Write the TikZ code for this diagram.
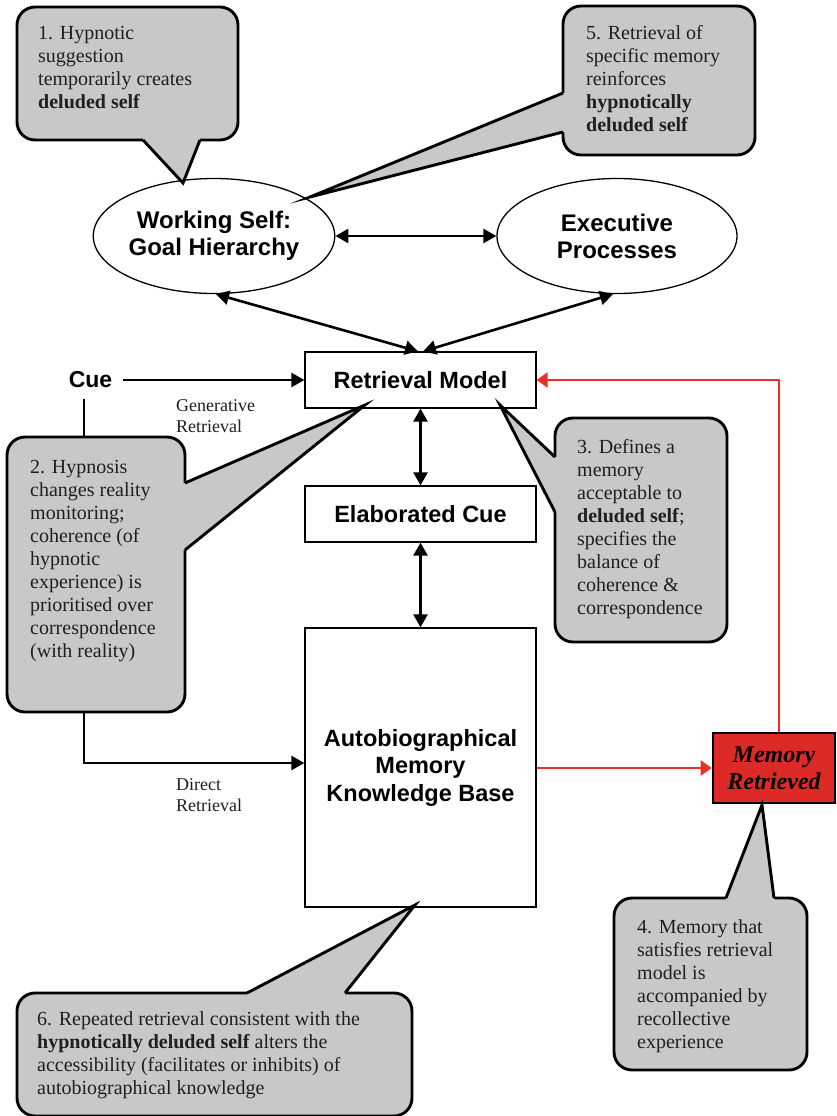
\documentclass[tikz,border=0pt]{standalone}
\usepackage{fontspec}
\setmainfont{Liberation Serif}
\setsansfont{Liberation Sans}
\usetikzlibrary{shapes.geometric,arrows.meta,calc}
\definecolor{cgray}{RGB}{200,200,200}
\definecolor{mred}{RGB}{221,42,38}
\definecolor{lred}{RGB}{230,48,40}
\begin{document}
\begin{tikzpicture}[x=1pt,y=-1pt,
  ell/.style={ellipse, draw, line width=1.3pt, fill=white, minimum width=240pt, minimum height=115pt, inner sep=0pt, align=center, font=\sffamily\bfseries\fontsize{24}{27}\selectfont},
  mbox/.style={draw, line width=1.3pt, fill=white, minimum width=231pt, inner sep=0pt, align=center, font=\sffamily\bfseries\fontsize{23.5}{27.5}\selectfont},
  callout/.style={draw, line width=2.9pt, fill=cgray, rounded corners=18pt, inner sep=0pt},
  tailline/.style={line width=2.9pt, line join=miter, miter limit=20},
  ctext/.style={anchor=base west, inner sep=0pt, text=black!88, font=\fontsize{20}{23}\selectfont},
  lab/.style={anchor=base west, inner sep=0pt, text=black!88, font=\fontsize{18}{21.5}\selectfont},
  arr/.style={line width=2.6pt, -{Triangle[length=13pt,width=14pt]}},
  dbl/.style={line width=2.6pt, {Triangle[length=13pt,width=14pt]}-{Triangle[length=13pt,width=14pt]}},
  rarr/.style={line width=2.2pt, draw=lred, -{Triangle[length=11pt,width=15pt,fill=lred]}},
]
\useasboundingbox (0,0) rectangle (836,1116);
\fill[white] (0,0) rectangle (836,1116);

% main nodes
\node[ell] (ws) at (214,236) {Working Self:\\Goal Hierarchy};
\node[ell] (ep) at (617,236) {Executive\\Processes};
\node[mbox, minimum height=56pt] (rm) at (420.5,380) {Retrieval Model};
\node[mbox, minimum height=56pt] (ec) at (420.5,514) {Elaborated Cue};
\node[mbox, minimum height=279pt] (ab) at (420.5,767.5) {Autobiographical\\Memory\\Knowledge Base};
\node[draw, line width=2.6pt, fill=mred, minimum width=122pt, minimum height=70pt, inner sep=0pt, align=center, font=\bfseries\itshape\fontsize{24}{27}\selectfont] (mr) at (774,768) {Memory\\Retrieved};
\node[font=\sffamily\bfseries\fontsize{23}{27}\selectfont, inner sep=11pt] (cue) at (90.5,380) {Cue};

\node[lab] (gr) at (176,411) {\parbox[t]{150pt}{Generative\\Retrieval}};
\node[lab] (dr) at (176,790) {\parbox[t]{150pt}{Direct\\Retrieval}};

% connectors
\coordinate (cuedown) at (84,763);
\draw[arr] (cue.east) -- (rm.west);
\draw[arr] (cue.south -| cuedown) -- (cuedown) -- (cuedown -| ab.west);
\draw[dbl] (ws) -- (ep);
\draw[dbl] (ws.272) -- ([xshift=-2.5pt]rm.north);
\draw[dbl] (ep.266) -- ([xshift=2.5pt]rm.north);
\draw[dbl] (rm) -- (ec);
\draw[dbl] (ec) -- (ab);
\draw[rarr] ([xshift=5pt]mr.north) |- (rm.east);
\draw[rarr] (ab.east |- mr.west) -- (mr.west);

% callout 1
\node[callout, minimum width=221pt, minimum height=133pt] (c1) at (127.5,73.5) {};
\fill[cgray] (143,134) -- (143,140) -- (183,183) -- (200,140) -- (200,134) -- cycle;
\draw[tailline] (143,140) -- (183,183) -- (200,140);
\node[ctext] (t1) at (38,40) {\parbox[t]{450pt}{1. Hypnotic\\suggestion\\temporarily creates\\\textbf{deluded self}}};

% callout 5
\node[callout, minimum width=192pt, minimum height=149pt] (c5) at (659,80.5) {};
\fill[cgray] (569,93) -- (563,93) -- (310,197) -- (563,132) -- (569,132) -- cycle;
\draw[tailline] (563,93) -- (310,197) -- (563,132);
\node[ctext] (t5) at (586,40) {\parbox[t]{450pt}{5. Retrieval of\\specific memory\\reinforces\\\textbf{hypnotically}\\\textbf{deluded self}}};

% callout 2
\node[callout, minimum width=178pt, minimum height=275pt] (c2) at (96,574.5) {};
\fill[cgray] (179,483) -- (185,483) -- (365,405) -- (185,550) -- (179,550) -- cycle;
\draw[tailline] (185,483) -- (365,405) -- (185,550);
\node[ctext] (t2) at (30,473) {\parbox[t]{450pt}{2. Hypnosis\\changes reality\\monitoring;\\coherence (of\\hypnotic\\experience) is\\prioritised over\\correspondence\\(with reality)}};

% callout 3
\node[callout, minimum width=172pt, minimum height=224pt] (c3) at (641,530) {};
\fill[cgray] (561,457) -- (555,457) -- (500,405) -- (555,512) -- (561,512) -- cycle;
\draw[tailline] (555,457) -- (500,405) -- (555,512);
\node[ctext] (t3) at (577,453) {\parbox[t]{450pt}{3. Defines a\\memory\\acceptable to\\\textbf{deluded self};\\specifies the\\balance of\\coherence \&\\correspondence}};

% callout 4
\node[callout, minimum width=193pt, minimum height=172pt] (c4) at (710.5,984) {};
\fill[cgray] (726,904) -- (726,898) -- (762,805) -- (774,898) -- (774,904) -- cycle;
\draw[tailline] (726,898) -- (762,805) -- (774,898);
\node[ctext] (t4) at (637,933) {\parbox[t]{450pt}{4. Memory that\\satisfies retrieval\\model is\\accompanied by\\recollective\\experience}};

% callout 6
\node[callout, minimum width=395pt, minimum height=123pt] (c6) at (214.5,1054.5) {};
\fill[cgray] (247,999) -- (247,993) -- (415,905) -- (345,993) -- (345,999) -- cycle;
\draw[tailline] (247,993) -- (415,905) -- (345,993);
\node[ctext] (t6) at (37,1025) {\parbox[t]{450pt}{6. Repeated retrieval consistent with the\\\textbf{hypnotically deluded self} alters the\\accessibility (facilitates or inhibits) of\\autobiographical knowledge}};
\end{tikzpicture}
\end{document}
